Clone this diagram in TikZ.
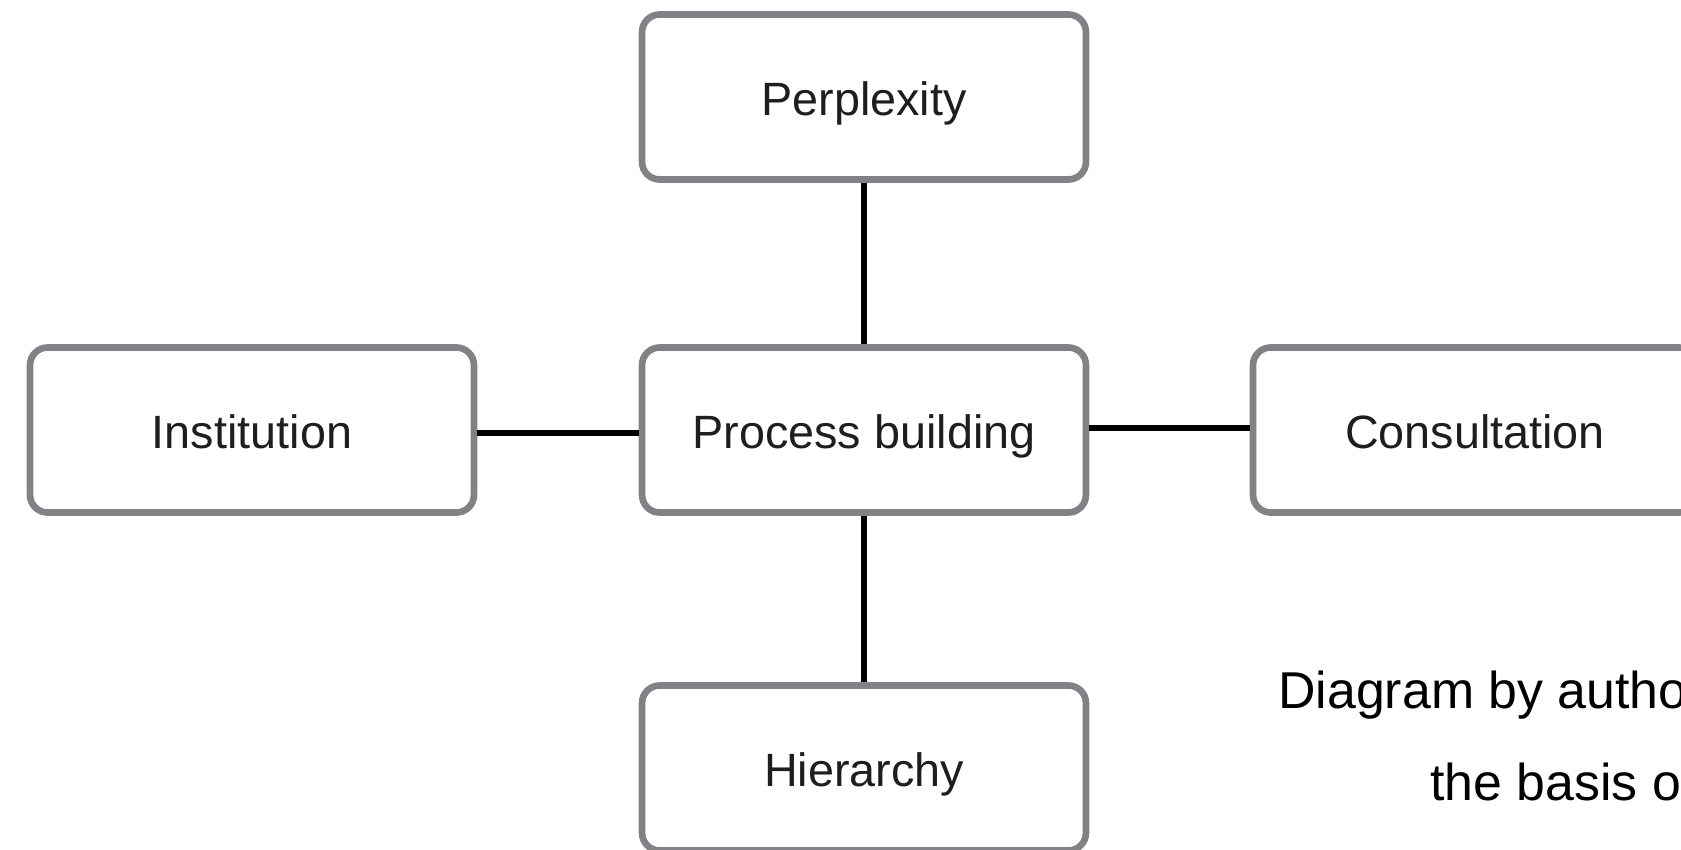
\documentclass[tikz,border=0pt]{standalone}
\usepackage{fontspec}
\setmainfont{Liberation Sans}
\definecolor{boxgray}{HTML}{808285}
\definecolor{textdark}{HTML}{1E1E1E}
\begin{document}
\begin{tikzpicture}[x=0.02cm,y=-0.02cm,
  box/.style={draw=boxgray, line width=3.8pt, rounded corners=10pt, fill=white,
    minimum width=8.88cm, minimum height=3.3cm, inner sep=0pt,
    text height=21.5pt, text depth=0pt,
    font=\fontsize{26.6}{30}\selectfont, text=textdark},
  link/.style={draw=black, line width=3.6pt},
  caption/.style={anchor=base west, inner sep=0pt, text=black,
    font=\fontsize{29.5}{34}\selectfont}]
\useasboundingbox (0,0) rectangle (1681,849);
\clip (0,0) rectangle (1681,849);

% the five concept boxes
\node[box] (perp) at (864,97)   {Perplexity};
\node[box] (proc) at (864,430)  {Process building};
\node[box] (inst) at (252,430)  {Institution};
\node[box] (cons) at (1475,430) {Consultation};
\node[box] (hier) at (864,768)  {Hierarchy};

% links from the centre box
\draw[link] (perp.south) -- (proc.north);
\draw[link] (proc.south) -- (hier.north);
\draw[link] ([yshift=-0.06cm]inst.east) -- ([yshift=-0.06cm]proc.west);
\draw[link] ([yshift=0.04cm]proc.east) -- ([yshift=0.04cm]cons.west);

% source note
\node[caption] (note1) at (1278,708) {Diagram by autho};
\node[caption] (note2) at (1430,800) {the basis o};
\end{tikzpicture}
\end{document}
